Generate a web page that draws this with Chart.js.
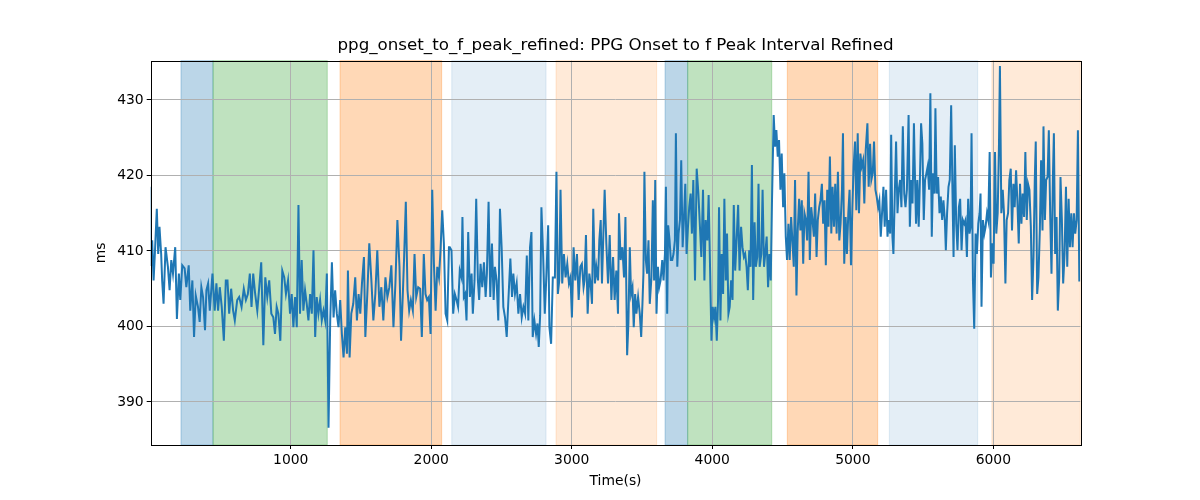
<!DOCTYPE html>
<html>
<head>
<meta charset="utf-8">
<script src="https://cdn.jsdelivr.net/npm/chart.js@4.4.1/dist/chart.umd.min.js"></script>
<style>
  html, body { margin: 0; padding: 0; background: #fff; }
  #wrap { width: 1200px; height: 500px; }
</style>
</head>
<body>
<div id="wrap"><canvas id="chart" width="1200" height="500"></canvas></div>
<script>
(function () {
    'use strict';

    // ─── Data ─────────────────────────────────────────────────────────────────
    const chartTitle = 'ppg_onset_to_f_peak_refined: PPG Onset to f Peak Interval Refined';
    const xLabel = 'Time(s)';
    const yLabel = 'ms';
    const xTicks = [1000, 2000, 3000, 4000, 5000, 6000];
    const yTicks = [390, 400, 410, 420, 430];
    const xRange = [3.5, 6619];
    const yRange = [384.3, 435.2];

    // shaded segments: [start s, end s, kind]
    const segments = [
        [219, 447, 'blue'],
        [447, 1260, 'green'],
        [1351, 2074, 'orange'],
        [2146, 2817, 'paleBlue'],
        [2888, 3604, 'paleOrange'],
        [3664, 3825, 'blue'],
        [3825, 4423, 'green'],
        [4534, 5177, 'orange'],
        [5260, 5889, 'paleBlue'],
        [5990, 6619, 'paleOrange'],
    ];

    // [time s, interval ms]
    const samples = [
        [3.5,418.5],[6,408.0],[14,411.4],[24,406.1],[33,409.6],[47,415.6],[57,409.6],[66,413.2],[78,409.6],[85,406.1],
        [95,403.0],[109,410.5],[126,407.9],[138,404.8],[150,408.8],[162,407.0],[178,410.5],[190,401.0],[204,407.0],[214,403.5],
        [228,408.1],[245,407.7],[257,405.2],[274,408.1],[285,402.1],[300,406.1],[312,398.6],[324,404.1],[340,402.6],[352,400.6],
        [364,405.2],[376,403.9],[390,399.5],[400,404.8],[412,405.7],[424,402.1],[443,407.0],[459,402.1],[471,405.7],[483,402.1],
        [495,405.2],[509,402.6],[524,398.1],[538,406.1],[550,406.1],[562,401.7],[576,405.0],[590,402.1],[602,400.8],[619,403.5],
        [633,403.9],[650,402.6],[666,405.0],[681,403.5],[695,404.3],[709,407.0],[721,402.6],[733,407.0],[747,404.3],[762,402.1],
        [776,405.2],[790,408.5],[805,397.5],[819,406.5],[833,403.9],[847,406.1],[862,401.7],[876,401.2],[888,399.0],[900,402.6],
        [912,401.7],[926,398.1],[940,407.4],[954,406.5],[966,404.3],[981,406.1],[995,401.7],[1007,404.3],[1019,399.9],[1031,403.9],
        [1043,399.9],[1055,416.1],[1066,401.7],[1078,408.8],[1090,402.1],[1102,404.8],[1114,403.0],[1126,400.8],[1138,404.3],[1150,401.7],
        [1162,410.1],[1174,398.6],[1185,403.9],[1197,401.7],[1209,403.5],[1221,400.8],[1233,402.1],[1245,400.8],[1257,407.0],[1269,386.6],
        [1281,400.8],[1293,408.5],[1305,401.2],[1316,404.8],[1328,401.7],[1340,399.9],[1352,403.5],[1364,399.0],[1376,395.9],[1388,399.9],
        [1400,396.4],[1407,407.4],[1419,395.9],[1431,401.7],[1445,403.0],[1459,406.5],[1471,400.8],[1483,404.3],[1495,401.7],[1507,405.7],
        [1521,409.2],[1531,398.6],[1545,404.3],[1559,411.0],[1574,406.1],[1588,400.8],[1602,404.3],[1616,410.1],[1631,402.6],[1645,405.2],
        [1659,400.8],[1674,406.5],[1688,403.9],[1702,405.2],[1716,408.1],[1731,399.9],[1745,405.7],[1759,414.1],[1774,407.9],[1785,398.1],
        [1797,403.9],[1807,409.2],[1819,416.5],[1831,404.8],[1843,402.1],[1855,403.5],[1869,402.1],[1881,409.6],[1893,403.9],[1907,405.2],
        [1921,405.0],[1933,398.6],[1947,409.6],[1959,404.3],[1971,403.5],[1983,403.9],[1995,399.0],[2007,418.1],[2019,408.3],[2031,402.1],
        [2043,407.9],[2055,406.5],[2066,410.1],[2078,415.4],[2090,411.0],[2102,401.7],[2114,400.8],[2126,410.5],
        [2132,410.5],[2144,410.1],[2156,401.7],[2168,404.3],[2180,403.5],[2191,402.6],[2203,407.4],[2215,406.5],[2222,414.5],[2232,403.9],
        [2241,404.3],[2251,400.8],[2263,412.5],[2275,403.9],[2287,407.0],[2296,401.7],[2308,406.1],[2320,416.9],[2332,406.1],[2341,403.5],
        [2351,408.3],[2363,405.2],[2375,408.5],[2387,403.9],[2396,407.0],[2408,416.5],[2420,403.9],[2432,411.0],[2444,403.5],[2453,407.9],
        [2465,406.1],[2477,400.8],[2489,415.6],[2501,410.5],[2513,402.6],[2525,401.2],[2537,398.6],[2549,403.5],[2563,409.0],[2575,403.9],
        [2584,407.0],[2596,404.3],[2608,405.7],[2620,401.7],[2632,404.3],[2644,401.2],[2656,402.6],[2668,401.7],[2680,409.4],[2691,400.8],
        [2703,410.5],[2713,412.5],[2722,398.6],[2734,400.8],[2746,399.0],[2756,400.4],[2765,397.3],[2775,401.5],[2784,415.8],[2796,409.6],
        [2808,401.7],[2820,407.0],[2832,413.4],[2841,399.9],[2853,397.7],[2865,406.5],[2880,406.5],[2891,420.5],[2901,404.3],[2911,406.1],
        [2920,418.1],[2932,405.7],[2944,409.6],[2956,406.5],[2968,408.3],[2980,405.7],[2991,406.5],[3001,401.2],[3013,410.5],[3025,406.1],
        [3037,409.6],[3049,403.5],[3061,407.9],[3072,408.3],[3084,405.2],[3091,406.1],[3101,412.1],[3113,401.7],[3125,407.0],[3134,405.7],
        [3144,403.0],[3153,415.6],[3165,405.7],[3175,407.9],[3187,406.1],[3196,411.4],[3206,414.1],[3215,405.7],[3227,413.6],
        [3234,418.1],[3246,411.0],[3258,405.7],[3270,412.1],[3282,403.5],[3294,409.2],[3305,403.5],[3317,407.4],[3329,401.7],[3336,415.0],
        [3348,408.8],[3360,410.5],[3372,406.5],[3382,414.5],[3394,396.2],[3403,400.4],[3413,410.5],[3422,404.3],[3432,405.2],[3441,399.9],
        [3451,404.3],[3460,401.7],[3472,403.9],[3484,401.7],[3494,398.6],[3503,403.0],[3510,407.0],[3517,420.5],[3527,408.8],[3536,407.0],
        [3546,411.4],[3555,403.0],[3567,406.5],[3577,416.7],[3586,406.1],[3594,419.4],[3603,401.7],[3613,407.9],[3622,405.2],[3632,406.1],
        [3644,408.8],[3653,406.1],[3663,409.6],[3670,418.5],[3679,401.7],[3686,413.4],[3696,411.4],[3705,408.8],[3715,408.8],[3724,409.6],
        [3734,411.4],[3741,425.6],[3751,407.9],[3760,412.3],[3770,414.1],[3779,422.0],[3789,410.5],[3798,414.1],[3808,418.9],[3817,409.6],
        [3827,413.2],[3836,415.8],[3846,417.6],[3855,412.3],[3865,419.4],[3877,406.1],[3889,420.9],[3901,417.6],[3910,414.1],[3922,409.2],
        [3934,418.1],[3944,406.1],[3953,414.1],[3965,411.4],[3974,417.4],[3984,407.9],[3994,398.1],[4003,402.6],[4013,401.2],[4022,402.6],
        [4032,398.1],[4041,403.5],[4048,415.8],[4058,400.8],[4067,409.6],[4077,404.3],[4086,416.9],[4096,406.1],[4105,412.3],[4115,401.7],
        [4124,402.6],[4134,406.1],[4144,403.5],[4153,416.1],[4163,407.4],[4174,411.9],[4184,416.1],[4194,407.4],[4205,413.2],[4215,410.5],
        [4225,409.2],[4234,409.6],[4244,407.9],[4253,404.8],[4263,410.1],[4272,407.9],[4282,421.4],[4291,403.5],[4301,413.8],[4310,407.9],
        [4320,409.2],[4329,418.9],
        [4337,407.9],[4349,409.6],[4358,418.1],[4368,407.9],[4377,409.6],[4387,411.9],[4397,405.2],[4406,409.6],[4416,406.1],[4425,416.7],
        [4437,428.0],[4447,423.8],[4456,426.0],[4466,422.5],[4475,424.7],[4485,418.1],[4494,422.9],[4504,415.8],[4513,420.3],[4523,411.9],
        [4532,408.8],[4542,413.6],[4551,408.8],[4561,414.5],[4570,411.4],[4580,407.9],[4589,419.4],[4599,404.1],[4608,412.7],[4618,416.9],
        [4627,412.7],[4637,416.7],[4647,408.3],[4656,415.0],[4666,414.1],[4675,411.4],[4685,420.5],[4694,408.8],[4704,415.8],[4713,414.1],
        [4723,411.9],[4732,417.6],[4742,409.2],[4751,414.1],[4761,415.8],[4770,416.7],[4780,418.9],[4789,413.6],[4799,416.7],[4808,408.1],
        [4818,418.1],[4827,413.2],[4837,422.5],[4847,412.3],[4856,418.5],[4866,413.2],[4875,418.9],[4885,412.3],[4894,420.5],[4904,411.4],
        [4913,413.6],[4923,418.1],[4930,425.6],[4939,408.3],[4949,414.5],[4958,409.6],[4968,415.0],[4977,418.1],[4987,408.1],[4997,415.8],
        [5006,421.2],[5016,424.5],[5025,415.4],[5035,425.6],[5044,415.0],[5054,422.9],[5063,421.2],[5073,422.0],[5082,416.3],[5092,423.4],
        [5104,426.9],[5113,418.5],[5123,424.2],[5132,419.4],[5142,420.3],[5151,424.5],[5161,418.1],[5170,417.2],[5180,415.8],[5189,416.7],
        [5199,411.9],[5208,415.0],[5218,418.5],[5227,413.2],[5237,418.1],[5247,411.9],[5256,414.1],[5266,412.3],[5273,425.4],[5282,411.9],
        [5289,409.6],[5299,417.6],[5308,424.5],[5318,415.0],[5327,418.1],[5337,419.4],[5346,415.8],[5356,426.5],[5366,417.6],[5375,415.8],
        [5385,418.1],[5397,428.0],[5406,413.2],[5416,419.4],[5425,416.3],[5435,426.9],
        [5440,422.0],[5450,413.6],[5459,419.4],[5469,413.2],[5478,419.8],[5486,426.9],[5495,424.2],[5505,414.1],[5514,419.4],[5524,420.3],
        [5533,421.2],[5543,418.1],[5552,430.9],[5562,411.9],[5571,420.3],[5581,417.6],[5588,428.9],[5597,417.6],[5607,419.8],[5617,415.0],
        [5626,417.2],[5636,414.1],[5645,416.7],[5655,414.1],[5662,410.1],[5671,415.0],[5681,418.5],[5690,419.4],[5700,429.3],[5709,418.1],
        [5717,409.2],[5726,424.0],[5736,413.6],[5745,410.1],[5755,415.8],[5764,416.9],[5774,410.1],[5783,414.1],[5793,413.6],[5802,414.1],
        [5812,409.2],[5821,416.9],[5831,412.3],[5838,413.2],[5845,425.6],[5855,406.1],[5864,399.7],[5874,412.3],[5883,409.6],[5893,413.6],
        [5902,415.0],[5909,417.6],[5916,402.6],[5926,414.1],[5936,412.3],[5945,413.2],[5955,415.0],[5964,414.1],[5974,423.1],[5983,406.5],
        [5993,411.0],[6002,408.3],[6012,423.1],[6021,412.3],[6031,415.0],[6040,423.8],[6047,434.5],[6057,415.0],[6067,418.1],[6076,415.0],
        [6086,405.7],[6095,414.1],[6105,415.0],[6114,419.4],[6124,420.9],[6133,412.7],[6143,418.9],[6152,415.8],[6162,420.7],[6171,416.7],
        [6181,411.0],[6190,418.9],[6200,413.6],[6209,417.6],[6219,414.5],[6228,423.1],[6238,414.1],[6247,418.9],[6257,418.1],[6267,413.2],
        [6276,403.5],[6286,409.2],[6295,419.4],[6302,424.5],[6312,404.3],[6321,406.5],[6331,412.7],[6340,422.0],[6350,412.7],[6357,426.5],
        [6367,414.1],[6376,419.4],[6386,419.8],[6395,426.0],[6405,414.5],[6414,407.0],[6424,419.8],[6431,425.6],[6440,409.6],[6450,414.5],
        [6459,402.1],[6469,406.5],[6478,419.8],[6488,414.1],[6497,405.7],[6507,409.6],[6517,418.5],[6526,407.9],[6536,416.9],[6545,410.5],
        [6555,415.0],[6564,410.5],[6574,415.0],[6583,412.3],[6593,414.1],[6602,426.0],[6612,406.1],[6619,406.1],
    ];

    // ─── Styles ───────────────────────────────────────────────────────────────
    const FONT = "'DejaVu Sans', sans-serif";
    const LINE = '#1f77b4';
    const SEG_FILL = {
        blue:       'rgba(31,119,180,0.3)',
        green:      'rgba(44,160,44,0.3)',
        orange:     'rgba(255,127,14,0.3)',
        paleBlue:   'rgba(31,119,180,0.12)',
        paleOrange: 'rgba(255,127,14,0.16)',
    };

    // Shaded segments below the grid, frame + titles on top
    const decor = {
        id: 'decor',
        beforeDraw(chart) {
            const { ctx, chartArea: a, scales: { x } } = chart;
            ctx.save();
            ctx.fillStyle = '#fff';
            ctx.fillRect(0, 0, chart.width, chart.height);
            segments.forEach(([t0, t1, kind]) => {
                const x0 = x.getPixelForValue(t0);
                const x1 = x.getPixelForValue(t1);
                ctx.fillStyle = SEG_FILL[kind];
                ctx.fillRect(x0, a.top, x1 - x0, a.bottom - a.top);
                ctx.strokeStyle = SEG_FILL[kind];
                ctx.lineWidth = 1;
                ctx.strokeRect(x0, a.top, x1 - x0, a.bottom - a.top);
            });
            ctx.restore();
        },
        afterDraw(chart) {
            const { ctx, chartArea: a } = chart;
            ctx.save();
            ctx.strokeStyle = '#000';
            ctx.lineWidth = 1;
            ctx.strokeRect(Math.round(a.left) + 0.5, Math.round(a.top) + 0.5,
                Math.round(a.right - a.left), Math.round(a.bottom - a.top));

            ctx.fillStyle = '#000';
            ctx.textAlign = 'center';
            ctx.textBaseline = 'middle';
            ctx.font = '16.7px ' + FONT;
            ctx.fillText(chartTitle, (a.left + a.right) / 2, 46);

            ctx.font = '13.9px ' + FONT;
            ctx.fillText(xLabel, (a.left + a.right) / 2, 481);

            ctx.translate(101.5, (a.top + a.bottom) / 2);
            ctx.rotate(-Math.PI / 2);
            ctx.fillText(yLabel, 0, 0);
            ctx.restore();
        },
    };

    const tickFont = { family: FONT, size: 13.9 };

    new Chart(document.getElementById('chart'), {
        type: 'line',
        data: {
            datasets: [{
                data: samples.map(([t, v]) => ({ x: t, y: v })),
                borderColor: LINE,
                borderWidth: 2,
                pointRadius: 0,
                tension: 0,
                fill: false,
            }],
        },
        options: {
            responsive: false,
            animation: false,
            devicePixelRatio: 1,
            layout: { padding: { left: 0, right: 119.7, top: 60.7, bottom: 0 } },
            plugins: {
                legend: { display: false },
                title: { display: false },
                tooltip: { enabled: false },
            },
            scales: {
                x: {
                    type: 'linear',
                    min: xRange[0],
                    max: xRange[1],
                    afterBuildTicks: s => { s.ticks = xTicks.map(v => ({ value: v })); },
                    afterFit: s => { s.height = 55; },
                    grid: { color: '#b0b0b0', lineWidth: 1, tickColor: '#000', tickLength: 4 },
                    border: { display: false },
                    ticks: { font: tickFont, color: '#000', padding: 3, maxRotation: 0, callback: v => String(v) },
                },
                y: {
                    min: yRange[0],
                    max: yRange[1],
                    afterBuildTicks: s => { s.ticks = yTicks.map(v => ({ value: v })); },
                    afterFit: s => { s.width = 150.7; },
                    grid: { color: '#b0b0b0', lineWidth: 1, tickColor: '#000', tickLength: 4 },
                    border: { display: false },
                    ticks: { font: tickFont, color: '#000', padding: 3, callback: v => String(v) },
                },
            },
        },
        plugins: [decor],
    });
})();
</script>
</body>
</html>
